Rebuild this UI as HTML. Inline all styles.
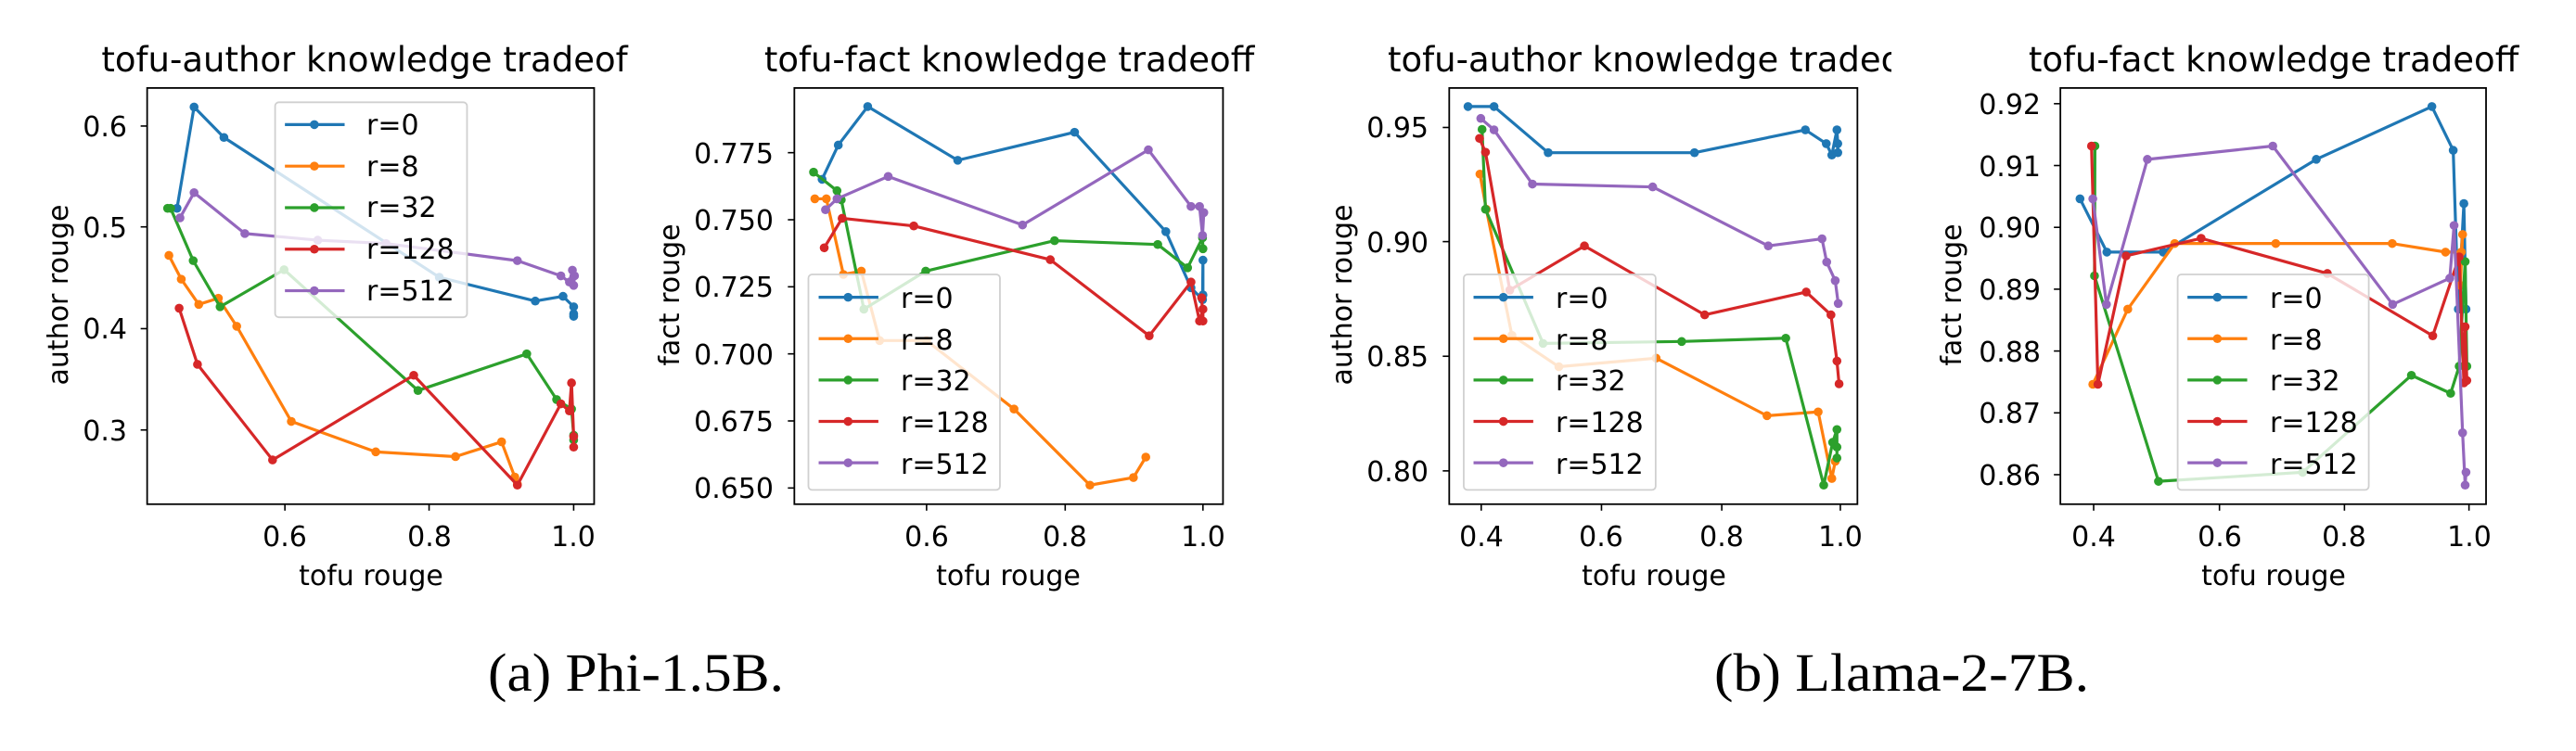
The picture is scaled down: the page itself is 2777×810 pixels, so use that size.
<!DOCTYPE html>
<html><head><meta charset="utf-8"><style>
html,body{margin:0;padding:0;background:#fff;}
svg text{font-family:"DejaVu Sans",sans-serif;fill:#000;}
</style></head><body>
<svg id="s" width="2777" height="805" viewBox="0 0 2777 805" xmlns="http://www.w3.org/2000/svg">
<defs><clipPath id="c3"><rect x="1400" y="0" width="639" height="100"/></clipPath></defs>
<g id="geo"></g>
<g id="leg"></g>
<!-- chart 1 text -->
<text x="393" y="77" font-size="37" text-anchor="middle">tofu-author knowledge tradeof</text>
<g font-size="30" text-anchor="end"><text x="137" y="147">0.6</text><text x="137" y="256">0.5</text><text x="137" y="365">0.4</text><text x="137" y="475">0.3</text></g>
<g font-size="30" text-anchor="middle"><text x="307" y="589">0.6</text><text x="463" y="589">0.8</text><text x="618" y="589">1.0</text>
<text x="400" y="631">tofu rouge</text><text transform="translate(73,318) rotate(-90)">author rouge</text></g>
<g font-size="30"><text x="395" y="145">r=0</text><text x="395" y="190">r=8</text><text x="395" y="234">r=32</text><text x="395" y="279">r=128</text><text x="395" y="324">r=512</text></g>
<!-- chart 2 text -->
<text x="1088" y="77" font-size="37" text-anchor="middle">tofu-fact knowledge tradeoff</text>
<g font-size="30" text-anchor="end"><text x="834" y="176">0.775</text><text x="834" y="248">0.750</text><text x="834" y="320">0.725</text><text x="834" y="393">0.700</text><text x="834" y="465">0.675</text><text x="834" y="537">0.650</text></g>
<g font-size="30" text-anchor="middle"><text x="999" y="589">0.6</text><text x="1148" y="589">0.8</text><text x="1297" y="589">1.0</text>
<text x="1087" y="631">tofu rouge</text><text transform="translate(732,318) rotate(-90)">fact rouge</text></g>
<g font-size="30"><text x="971" y="332">r=0</text><text x="971" y="377">r=8</text><text x="971" y="421">r=32</text><text x="971" y="466">r=128</text><text x="971" y="511">r=512</text></g>
<!-- chart 3 text -->
<text x="1496" y="77" font-size="37" clip-path="url(#c3)">tofu-author knowledge tradeoff</text>
<g font-size="30" text-anchor="end"><text x="1540" y="148">0.95</text><text x="1540" y="272">0.90</text><text x="1540" y="395">0.85</text><text x="1540" y="519">0.80</text></g>
<g font-size="30" text-anchor="middle"><text x="1597" y="589">0.4</text><text x="1726" y="589">0.6</text><text x="1856" y="589">0.8</text><text x="1984" y="589">1.0</text>
<text x="1783" y="631">tofu rouge</text><text transform="translate(1457,318) rotate(-90)">author rouge</text></g>
<g font-size="30"><text x="1677" y="332">r=0</text><text x="1677" y="377">r=8</text><text x="1677" y="421">r=32</text><text x="1677" y="466">r=128</text><text x="1677" y="511">r=512</text></g>
<!-- chart 4 text -->
<text x="2451" y="77" font-size="37" text-anchor="middle">tofu-fact knowledge tradeoff</text>
<g font-size="30" text-anchor="end"><text x="2200" y="123">0.92</text><text x="2200" y="190">0.91</text><text x="2200" y="256">0.90</text><text x="2200" y="323">0.89</text><text x="2200" y="390">0.88</text><text x="2200" y="456">0.87</text><text x="2200" y="523">0.86</text></g>
<g font-size="30" text-anchor="middle"><text x="2257" y="589">0.4</text><text x="2393" y="589">0.6</text><text x="2527" y="589">0.8</text><text x="2662" y="589">1.0</text>
<text x="2451" y="631">tofu rouge</text><text transform="translate(2114,318) rotate(-90)">fact rouge</text></g>
<g font-size="30"><text x="2447" y="332">r=0</text><text x="2447" y="377">r=8</text><text x="2447" y="421">r=32</text><text x="2447" y="466">r=128</text><text x="2447" y="511">r=512</text></g>
<text x="526" y="745" font-size="58" textLength="319" lengthAdjust="spacingAndGlyphs" style="font-family:'Liberation Serif',serif">(a) Phi-1.5B.</text>
<text x="1848" y="745" font-size="58" textLength="404" lengthAdjust="spacingAndGlyphs" style="font-family:'Liberation Serif',serif">(b) Llama-2-7B.</text>
</svg>
<script>
var SX=0.4598,SY=0.513;
var C=["#1f77b4","#ff7f0e","#2ca02c","#d62728","#9467bd"];
var CH=[
{off:0,ax:[345,1393,185,1060],yt:[265,477,691,904],xt:[668,1006,1345],leg:[645,1095,215,667,668,808,737,262,87.3],
d:[[[415,438],[455,225],[525,289],[1030,583],[1255,633],[1320,623],[1345,645],[1345,660],[1345,665]],
[[396,537],[425,587],[466,640],[512,627],[555,686],[683,886],[881,950],[1068,960],[1176,929],[1207,1003],[1213,1018]],
[[393,438],[400,438],[453,548],[516,645],[666,567],[980,821],[1235,744],[1305,840],[1340,860],[1345,915],[1345,925]],
[[420,648],[463,766],[639,967],[970,789],[1213,1020],[1315,849],[1335,864],[1340,805],[1345,918],[1345,940]],
[[422,458],[455,405],[574,491],[745,505],[905,512],[1213,548],[1315,580],[1335,593],[1342,568],[1347,580],[1345,600]]]},
{off:700,ax:[340,1345,185,1060],yt:[321,462,603,744,885,1026],xt:[650,975,1298],leg:[373,822,577,1030,397,537,466,625,87],
d:[[[405,377],[443,305],[512,224],[723,337],[997,278],[1211,487],[1270,605],[1297,630],[1298,547],[1298,620]],
[[388,418],[415,418],[455,577],[497,570],[540,716],[650,716],[855,860],[1033,1020],[1135,1004],[1164,961]],
[[385,362],[440,401],[450,420],[503,650],[648,570],[950,506],[1192,514],[1262,563],[1297,500],[1298,523]],
[[410,521],[452,459],[620,475],[940,546],[1172,706],[1270,593],[1290,675],[1298,650],[1298,675],[1295,626]],
[[413,441],[440,418],[560,371],[875,473],[1170,315],[1270,434],[1290,434],[1297,495],[1300,447]]]},
{off:1400,ax:[353,1310,185,1060],yt:[268,508,749,990],xt:[428,710,992,1270],leg:[387,837,577,1030,410,550,480,625,87],
d:[[[397,224],[458,224],[585,321],[928,321],[1188,273],[1237,302],[1250,326],[1262,273],[1264,302],[1264,321]],
[[425,366],[440,440],[500,705],[610,771],[838,753],[1098,874],[1218,866],[1250,1006],[1258,970]],
[[430,272],[438,440],[573,722],[898,718],[1142,711],[1231,1020],[1252,930],[1262,903],[1262,963],[1262,940]],
[[424,291],[438,320],[495,610],[670,517],[952,662],[1190,614],[1248,662],[1262,759],[1267,807]],
[[427,249],[458,273],[548,387],[830,393],[1101,517],[1227,502],[1238,551],[1258,590],[1265,638]]]},
{off:2057,ax:[357,1355,185,1060],yt:[218,348,478,608,738,868,998],xt:[435,730,1023,1315],leg:[632,1080,577,1030,655,795,725,625,87],
d:[[[403,418],[466,530],[598,530],[957,335],[1228,224],[1278,316],[1290,650],[1303,428],[1308,650]],
[[433,808],[515,650],[625,512],[862,512],[1135,512],[1260,530],[1297,530],[1300,493],[1295,600]],
[[438,307],[437,580],[587,1012],[925,993],[1180,789],[1272,827],[1292,770],[1306,550],[1310,770]],
[[430,307],[445,808],[511,538],[687,501],[983,575],[1230,706],[1292,540],[1303,805],[1306,687],[1310,800]],
[[433,418],[465,640],[561,335],[855,307],[1136,640],[1270,585],[1280,474],[1300,910],[1306,1020],[1308,993]]]}];
var ns="http://www.w3.org/2000/svg";
function el(p,t,a){var e=document.createElementNS(ns,t);for(var k in a)e.setAttribute(k,a[k]);p.appendChild(e);return e;}
var G=document.getElementById("geo"),LG=document.getElementById("leg");
CH.forEach(function(c){
 var X=function(x){return c.off+x*SX},Y=function(y){return y*SY};
 c.d.forEach(function(s,i){
  el(G,"polyline",{points:s.map(function(q){return X(q[0])+","+Y(q[1])}).join(" "),fill:"none",stroke:C[i],"stroke-width":3.2,"stroke-linejoin":"round"});
  s.forEach(function(q){el(G,"circle",{cx:X(q[0]),cy:Y(q[1]),r:4.8,fill:C[i]});});
 });
 var a=c.ax;
 el(G,"rect",{x:X(a[0]),y:Y(a[2]),width:(a[1]-a[0])*SX,height:(a[3]-a[2])*SY,fill:"none",stroke:"#000","stroke-width":1.8});
 c.yt.forEach(function(t){el(G,"line",{x1:X(a[0])-7,x2:X(a[0]),y1:Y(t),y2:Y(t),stroke:"#000","stroke-width":1.6});});
 c.xt.forEach(function(t){el(G,"line",{x1:X(t),x2:X(t),y1:Y(a[3]),y2:Y(a[3])+7,stroke:"#000","stroke-width":1.6});});
 var v=c.leg;
 el(LG,"rect",{x:X(v[0]),y:Y(v[2]),width:(v[1]-v[0])*SX,height:(v[3]-v[2])*SY,rx:4,fill:"#fff","fill-opacity":0.8,stroke:"#d0d0d0","stroke-width":1.8});
 for(var i=0;i<5;i++){var y=Y(v[7]+i*v[8]);
  el(LG,"line",{x1:X(v[4]),x2:X(v[5]),y1:y,y2:y,stroke:C[i],"stroke-width":3.2});
  el(LG,"circle",{cx:X(v[6]),cy:y,r:4.8,fill:C[i]});}
});
</script>
</body></html>
